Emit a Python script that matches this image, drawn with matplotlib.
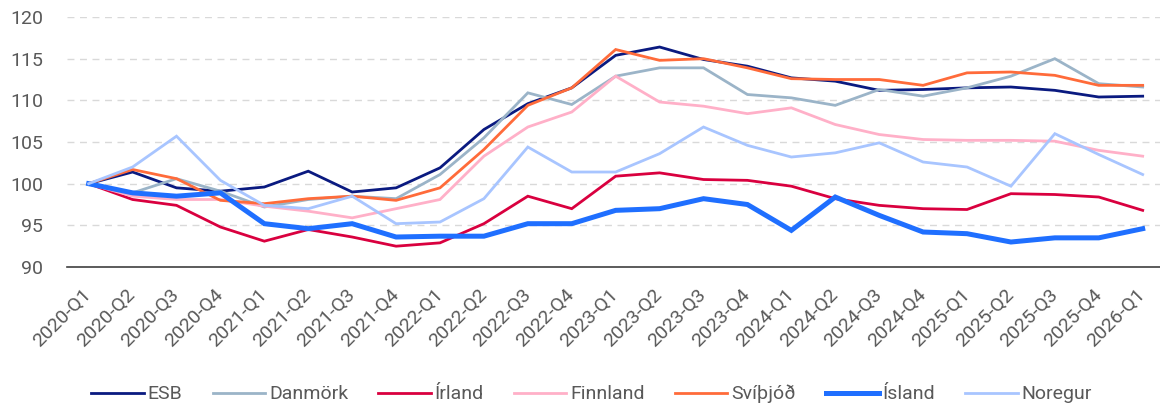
import matplotlib
matplotlib.use("Agg")
import matplotlib.pyplot as plt

quarters = [f"{y}-Q{q}" for y in range(2020, 2026) for q in range(1, 5)] + ["2026-Q1"]

esb = [100.0, 101.4, 99.5, 99.1, 99.6, 101.5, 99.0, 99.5, 101.9, 106.5, 109.6, 111.5, 115.4,
       116.4, 114.9, 114.1, 112.7, 112.3, 111.2, 111.3, 111.5, 111.6, 111.2, 110.4, 110.5]
danmork = [100.0, 98.9, 100.6, 99.1, 97.2, 98.1, 98.5, 98.2, 101.1, 105.5, 110.9, 109.5, 112.9,
           113.9, 113.9, 110.7, 110.3, 109.4, 111.3, 110.5, 111.5, 112.9, 115.0, 112.0, 111.6]
irland = [100.0, 98.1, 97.4, 94.8, 93.1, 94.5, 93.6, 92.5, 92.9, 95.2, 98.5, 97.0, 100.9,
          101.3, 100.5, 100.4, 99.7, 98.2, 97.4, 97.0, 96.9, 98.8, 98.7, 98.4, 96.8]
finnland = [100.0, 98.5, 98.1, 98.1, 97.3, 96.7, 95.9, 97.0, 98.1, 103.3, 106.8, 108.6, 112.9,
            109.8, 109.3, 108.4, 109.1, 107.1, 105.9, 105.3, 105.2, 105.2, 105.1, 104.0, 103.3]
svithjod = [100.0, 101.7, 100.6, 98.0, 97.6, 98.2, 98.5, 98.0, 99.5, 104.1, 109.4, 111.5, 116.1,
            114.8, 115.0, 113.9, 112.6, 112.5, 112.5, 111.8, 113.3, 113.4, 113.0, 111.8, 111.8]
island = [100.0, 98.9, 98.5, 98.9, 95.2, 94.6, 95.2, 93.6, 93.7, 93.7, 95.2, 95.2, 96.8,
          97.0, 98.2, 97.5, 94.4, 98.4, 96.2, 94.2, 94.0, 93.0, 93.5, 93.5, 94.6]
noregur = [100.0, 102.0, 105.7, 100.4, 97.4, 97.0, 98.5, 95.2, 95.4, 98.2, 104.4, 101.4, 101.4,
           103.6, 106.8, 104.6, 103.2, 103.7, 104.9, 102.6, 102.0, 99.7, 106.0, 103.5, 101.1]

series = [
    ("ESB", esb, "#0a1a80", 2.0),
    ("Danmörk", danmork, "#9bb4c8", 2.0),
    ("Írland", irland, "#d9003f", 2.0),
    ("Finnland", finnland, "#ffb0c8", 2.0),
    ("Svíþjóð", svithjod, "#ff6b3a", 2.0),
    ("Ísland", island, "#1f6fff", 3.6),
    ("Noregur", noregur, "#a8c5ff", 2.0),
]

plt.rcParams["font.family"] = ["Roboto", "DejaVu Sans"]
text_col = "#595959"

fig = plt.figure(figsize=(11.6, 4.05), dpi=100)
ax = fig.add_axes([0.0575, 0.3407, 0.9465, 0.6173])

x = list(range(len(quarters)))
for name, vals, col, lw in series:
    ax.plot(x, vals, color=col, lw=lw, label=name, solid_joinstyle="miter")

ax.set_xlim(-0.5, len(quarters) - 0.5)
ax.set_ylim(90, 120)
ax.set_yticks(range(90, 121, 5))
ax.set_xticks(x)
ax.set_xticklabels(quarters, rotation=45, ha="right", va="center", rotation_mode="anchor")

ax.grid(axis="y", color="#d9d9d9", linestyle=(0, (5, 4)), lw=1)
ax.set_axisbelow(True)
for s in ["top", "right", "left"]:
    ax.spines[s].set_visible(False)
ax.spines["bottom"].set_color("#404040")
ax.spines["bottom"].set_linewidth(1.2)
ax.tick_params(axis="both", length=0, labelsize=14, colors=text_col)
ax.tick_params(axis="y", pad=17)
ax.tick_params(axis="x", pad=18)

leg = fig.legend(loc="center", bbox_to_anchor=(0.51, 0.027), ncol=7, frameon=False,
                 fontsize=14, handlelength=2.7, handletextpad=0.2, columnspacing=1.55)
for t in leg.get_texts():
    t.set_color(text_col)

fig.savefig("out.png", dpi=100)
